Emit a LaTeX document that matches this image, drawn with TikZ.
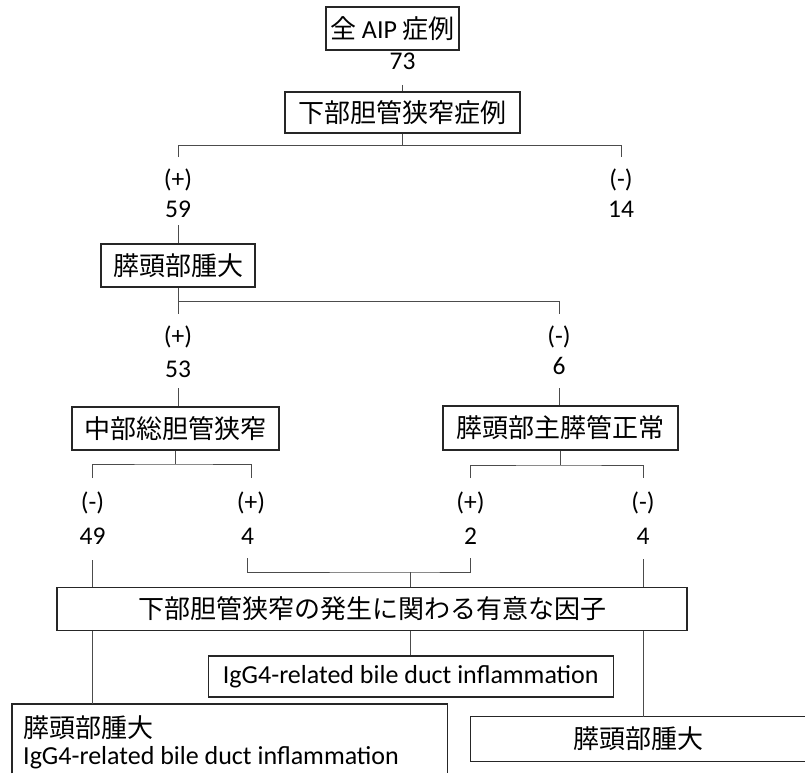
\documentclass[tikz,border=0pt]{standalone}
\usepackage{fontspec}
\setmainfont{Carlito}
\newfontfamily\lat{Carlito}
\newfontfamily\jp{Noto Sans CJK JP}
\tikzset{
  box/.style={draw=black!85, line width=1.2pt, inner sep=0pt, text=black, font=\jp\fontsize{26}{30}\selectfont},
  boxline/.style={draw=black!85, line width=1.2pt},
  conn/.style={draw=black!70, line width=0.9pt},
  pm/.style={inner sep=0pt, text height=15pt, text depth=0pt, outer ysep=15.5pt, outer xsep=0pt, text=black, font=\fontsize{25.5}{28}\selectfont},
  num/.style={pm, outer ysep=9.5pt},
  jptext/.style={inner sep=0pt, text=black, font=\jp\fontsize{26}{30}\selectfont},
  lattext/.style={inner sep=0pt, text=black, font=\lat\fontsize{26}{30}\selectfont}
}
\begin{document}
\begin{tikzpicture}[x=1pt,y=-1pt]
\useasboundingbox (0,0) rectangle (805,773);

% top
\node[box, minimum width=133pt, minimum height=43pt] (b1) at (392.5,28.5) {全 {\lat AIP} 症例};
\node[num, outer ysep=15.5pt] (n73) at (402.5,62) {73};
\node[box, minimum width=235pt, minimum height=41pt] (b2) at (402.5,112.5) {下部胆管狭窄症例};
\coordinate (j1) at (402.5,145.5);
\draw[conn] (n73) -- (b2);
\draw[conn] (b2) -- (j1);

% first split
\node[pm] (pL1) at (178,180) {(+)};
\node[num, outer ysep=7.5pt] (nL1) at (178,210) {59};
\node[pm] (pR1) at (621,180) {(-)};
\node[num] (nR1) at (621,210) {14};
\draw[conn] (pL1) |- (j1) -| (pR1);

\node[box, minimum width=154pt, minimum height=43pt] (b3) at (178,265.5) {膵頭部腫大};
\draw[conn] (nL1) -- (b3);

% second split
\coordinate (j2) at (178,301);
\node[pm] (pL2) at (178,337) {(+)};
\node[num, outer ysep=10.5pt] (nL2) at (178,370) {53};
\node[pm] (pR2) at (559,337) {(-)};
\node[num, outer ysep=13.5pt] (nR2) at (559,367) {6};
\draw[conn] (b3) -- (pL2);
\draw[conn] (j2) -| (pR2);

\node[box, minimum width=207pt, minimum height=43pt] (bM) at (175.5,428.5) {中部総胆管狭窄};
\node[box, minimum width=235pt, minimum height=44pt] (bN) at (560.5,428) {膵頭部主膵管正常};
\draw[conn] (nL2) -- (nL2 |- bM.north);
\draw[conn] (nR2) -- (nR2 |- bN.north);

% third splits
\coordinate (j3) at (175.5,464);
\coordinate (j5) at (560.5,465);
\draw[conn] (bM) -- (j3);
\draw[conn] (bN) -- (j5);
\node[pm, outer ysep=17.5pt] (pA) at (92.5,503) {(-)};
\node[num, outer ysep=15.5pt] (nA) at (92.5,537) {49};
\node[pm, outer ysep=17.5pt] (pB) at (251,503) {(+)};
\node[num, outer ysep=13.5pt] (nB) at (247.5,537) {4};
\node[pm, outer ysep=17.5pt] (pC) at (470.5,503) {(+)};
\node[num, outer ysep=13.5pt] (nC) at (470.5,537) {2};
\node[pm, outer ysep=17.5pt] (pD) at (643,503) {(-)};
\node[num, outer ysep=14.5pt] (nD) at (643,537) {4};
\draw[conn] (pA) |- (j3) -| (pB);
\draw[conn] (pC) |- (j5) -| (pD);

\coordinate (j4) at (410,572);
\draw[conn] (nB) |- (j4) -| (nC);

% factor box
\node[box, minimum width=630pt, minimum height=43pt] (bF) at (372,609) {下部胆管狭窄の発生に関わる有意な因子};
\draw[conn] (j4) -- (j4 |- bF.north);
\draw[conn] (nA) -- (nA |- bF.north);
\draw[conn] (nD) -- (nD |- bF.north);

\node[box, font=\lat\fontsize{26}{30}\selectfont, minimum width=405pt, minimum height=41pt] (bI) at (410.75,676.5) {IgG4-related bile duct inflammation};
\draw[conn] (j4 |- bF.south) -- (j4 |- bI.north);

% bottom left box (runs off the page)
\node[inner sep=0pt, minimum width=435pt, minimum height=69pt, anchor=north west] (bL) at (12,704) {};
\draw[boxline] (bL.south west) -- (bL.north west) -- (bL.north east) -- (bL.south east);
\node[jptext, anchor=base west] (bL1) at (23,737) {膵頭部腫大};
\node[lattext, anchor=base west] (bL2) at (23,764) {IgG4-related bile duct inflammation};
\draw[conn] (nA |- bF.south) -- (nA |- bL.north);

% bottom right box (runs off the page)
\node[jptext, minimum width=334pt, minimum height=44pt] (bR) at (638,739) {膵頭部腫大};
\draw[boxline] (bR.north east) -- (bR.north west) -- (bR.south west) -- (bR.south east);
\draw[conn] (nD |- bF.south) -- (nD |- bR.north);
\end{tikzpicture}
\end{document}
